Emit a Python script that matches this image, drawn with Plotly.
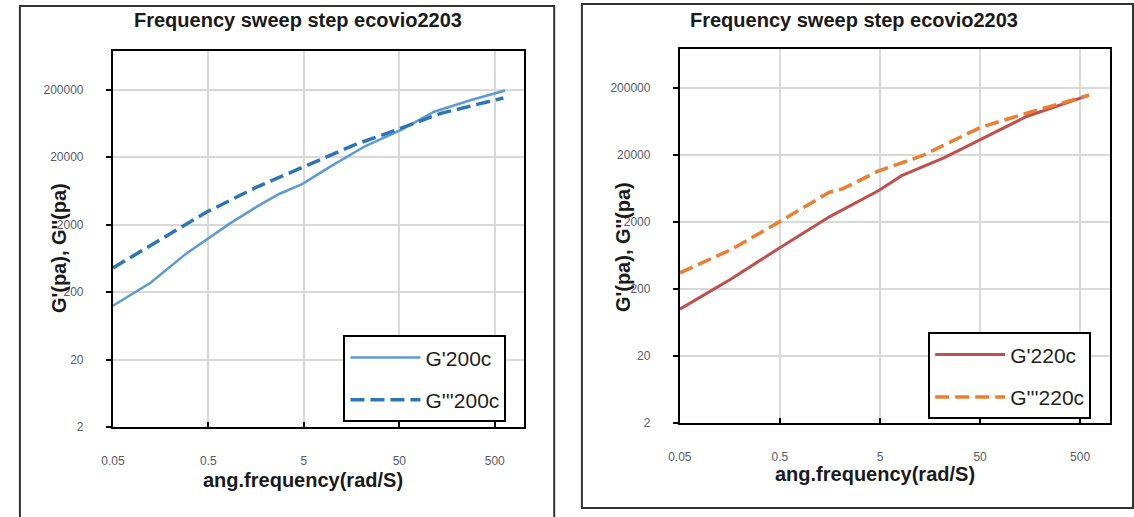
import math
import plotly.graph_objects as go

W, H = 1134, 517

# ecovio2203 at 200 °C
freq_gp_200 = [0.05, 0.124, 0.297, 0.836, 1.58, 2.75, 4.8, 9.08, 21.8, 52.2, 116, 277, 640]
gp_200 = [126, 275, 757, 2075, 3640, 5700, 7980, 14000, 29000, 50800, 94400, 139600, 195000]
freq_gpp_200 = [0.05, 0.145, 0.479, 1.58, 4.8, 17.2, 52.2, 136, 615]
gpp_200 = [456, 1122, 3076, 7140, 14000, 30700, 53800, 89100, 151000]

# ecovio2203 at 220 °C
freq_gp_220 = [0.05, 0.161, 0.464, 1.56, 4.86, 8.24, 22, 50.6, 146, 614]
gp_220 = [100, 278, 767, 2370, 5850, 9720, 18070, 33600, 74100, 154000]
freq_gpp_220 = [0.05, 0.161, 0.464, 1.56, 2.11, 4.86, 13, 50.6, 146, 614]
gpp_220 = [347, 767, 1890, 5520, 6180, 11500, 19100, 51000, 83000, 154000]

x_ticks = [0.05, 0.5, 5, 50, 500]
x_tick_text = ["0.05", "0.5", "5", "50", "500"]
y_ticks = [2, 20, 200, 2000, 20000, 200000]
y_tick_text = ["2", "20", "200", "2000", "20000", "200000"]

title_text = "Frequency sweep step ecovio2203"
x_title = "ang.frequency(rad/S)"
y_title = "G'(pa), G''(pa)"

FONT = "Liberation Sans, Arial, sans-serif"


def px(v):
    return v / W


def py(v):
    return 1 - v / H


fig = go.Figure()

fig.add_trace(go.Scatter(x=freq_gp_200, y=gp_200, name="G'200c", mode="lines",
                         line=dict(color="#5B9BD5", width=2.5),
                         xaxis="x", yaxis="y", legend="legend", legendgroup="a"))
fig.add_trace(go.Scatter(x=freq_gpp_200, y=gpp_200, name="G'''200c", mode="lines",
                         line=dict(color="#2E75B6", width=3.5, dash="14px,6px"),
                         xaxis="x", yaxis="y", legend="legend", legendgroup="b"))
fig.add_trace(go.Scatter(x=freq_gp_220, y=gp_220, name="G'220c", mode="lines",
                         line=dict(color="#C0504D", width=3),
                         xaxis="x2", yaxis="y2", legend="legend2", legendgroup="c"))
fig.add_trace(go.Scatter(x=freq_gpp_220, y=gpp_220, name="G'''220c", mode="lines",
                         line=dict(color="#ED7D31", width=3.5, dash="14px,6px"),
                         xaxis="x2", yaxis="y2", legend="legend2", legendgroup="d"))

xr = [math.log10(0.05), 3.0]
yr = [math.log10(2), 5.87]

axis_common = dict(
    type="log", showline=True, mirror=True, linecolor="black", linewidth=2,
    showgrid=True, gridcolor="#D9D9D9", gridwidth=1.5, zeroline=False,
    tickfont=dict(family=FONT, size=12, color="#5A5A6A"), ticklen=5,
    tickcolor="black", tickwidth=1.5,
)

x_common = dict(axis_common, range=xr, tickmode="array", tickvals=x_ticks,
                ticktext=x_tick_text, ticks="inside")
y_common = dict(axis_common, range=yr, tickmode="array", tickvals=y_ticks,
                ticktext=y_tick_text, ticks="outside", ticklabelstandoff=20)

legend_common = dict(
    bgcolor="white", bordercolor="black", borderwidth=2,
    font=dict(family=FONT, size=21, color="#1F1F1F"),
    xanchor="left", yanchor="top", itemwidth=70, traceorder="grouped",
    tracegroupgap=12,
)

fig.update_layout(
    width=W, height=H, margin=dict(l=0, r=0, t=0, b=0),
    paper_bgcolor="white", plot_bgcolor="white", showlegend=True,
    xaxis=dict(x_common, domain=[px(102), px(517)], anchor="y", ticklabelstandoff=21),
    yaxis=dict(y_common, domain=[py(433), py(52)], anchor="x"),
    xaxis2=dict(x_common, domain=[px(675), px(1110)], anchor="y2", ticklabelstandoff=21),
    yaxis2=dict(y_common, domain=[py(429), py(50)], anchor="x2"),
    legend=dict(legend_common, x=px(335), y=py(340)),
    legend2=dict(legend_common, x=px(926), y=py(337)),
)

# panel frames
fig.add_shape(type="rect", xref="paper", yref="paper",
              x0=px(8), x1=px(548), y0=py(530), y1=py(6),
              line=dict(color="#333333", width=2), layer="below")
fig.add_shape(type="rect", xref="paper", yref="paper",
              x0=px(576), x1=px(1133), y0=py(515), y1=py(4),
              line=dict(color="#333333", width=2), layer="below")

title_font = dict(family=FONT, size=20, color="#1A1A1A")
ann = [
    dict(text="<b>%s</b>" % title_text, x=px(289), y=py(20)),
    dict(text="<b>%s</b>" % title_text, x=px(851), y=py(20)),
    dict(text="<b>%s</b>" % x_title, x=px(294), y=py(487)),
    dict(text="<b>%s</b>" % x_title, x=px(872), y=py(480)),
    dict(text="<b>%s</b>" % y_title, x=px(47), y=py(252), textangle=-90),
    dict(text="<b>%s</b>" % y_title, x=px(617), y=py(250), textangle=-90),
]
for a in ann:
    fig.add_annotation(dict(a, xref="paper", yref="paper", showarrow=False,
                            xanchor="center", yanchor="middle", font=title_font))

fig.write_html("out.html")
